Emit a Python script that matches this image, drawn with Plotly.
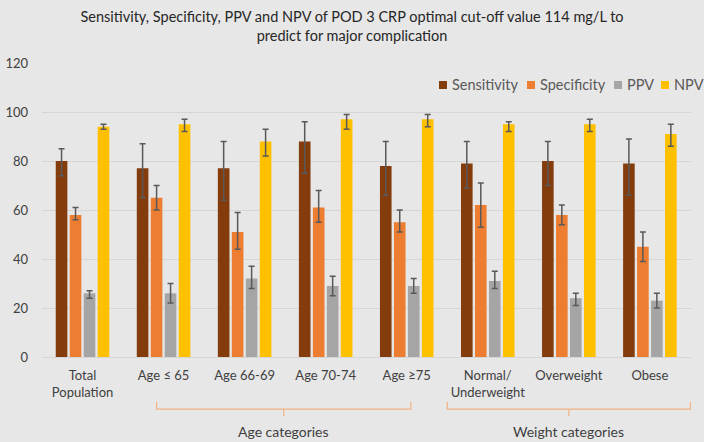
import plotly.graph_objects as go

categories = ["Total<br>Population", "Age ≤ 65", "Age 66-69", "Age 70-74", "Age ≥75",
              "Normal/<br>Underweight", "Overweight", "Obese"]

sens = [80, 77, 77, 88, 78, 79, 80, 79]
sens_hi = [85, 87, 88, 96, 88, 88, 88, 89]
sens_lo = [74, 65, 64, 75, 66, 69, 70, 66]

spec = [58, 65, 51, 61, 55, 62, 58, 45]
spec_hi = [61, 70, 59, 68, 60, 71, 62, 51]
spec_lo = [56, 60, 44, 55, 51, 53, 54, 39]

ppv = [26, 26, 32, 29, 29, 31, 24, 23]
ppv_hi = [27, 30, 37, 33, 32, 35, 26, 26]
ppv_lo = [24, 22, 28, 25, 26, 28, 21, 20]

npv = [94, 95, 88, 97, 97, 95, 95, 91]
npv_hi = [95, 97, 93, 99, 99, 96, 97, 95]
npv_lo = [93, 92, 82, 93, 94, 92, 92, 86]

series_names = ["Sensitivity", "Specificity", "PPV", "NPV"]
series_colors = ["#843C0C", "#ED7D31", "#A5A5A5", "#FFC000"]
series_vals = [(sens, sens_hi, sens_lo), (spec, spec_hi, spec_lo),
               (ppv, ppv_hi, ppv_lo), (npv, npv_hi, npv_lo)]

FONT = "Lato"
fig = go.Figure()
for name, (v, hi, lo), col in zip(series_names, series_vals, series_colors):
    fig.add_trace(go.Bar(
        name=name, x=categories, y=v, marker_color=col, marker_line_width=0,
        showlegend=False,
        error_y=dict(type="data", symmetric=False,
                     array=[h - a for h, a in zip(hi, v)],
                     arrayminus=[a - l for a, l in zip(v, lo)],
                     color="#595959", thickness=1.5, width=3),
    ))

bg = "#E7E7E7"
fig.update_layout(
    width=704, height=442,
    paper_bgcolor=bg, plot_bgcolor=bg,
    margin=dict(l=42, r=13, t=63, b=85, autoexpand=False),
    barmode="group", bargap=0.31, bargroupgap=0.17,
    font=dict(family=FONT, size=13, color="#404040"),
    title=dict(text="Sensitivity, Specificity, PPV and NPV of POD 3 CRP optimal cut-off value 114 mg/L to<br>predict for major complication",
               x=0.5, xanchor="center", y=0.951, yanchor="top",
               font=dict(family=FONT, size=14.5, color="#262626")),
    yaxis=dict(range=[0, 120], dtick=20, gridcolor="#D6D6D6", gridwidth=1,
               zeroline=False, showline=False, ticks="", ticklabelstandoff=13,
               automargin=False, tickfont=dict(size=13, color="#404040")),
    xaxis=dict(showline=True, linecolor="#D6D6D6", ticks="", ticklabelstandoff=6,
               automargin=False, tickfont=dict(size=13, color="#404040"), tickangle=0),
)

# manual legend (paper coordinates)
leg_sq_x = [0.6117, 0.7473, 0.8814, 0.9538]
leg_sq_w = 0.0123
leg_y0, leg_y1, leg_yc = 0.9116, 0.9388, 0.9252
for name, col, sx in zip(series_names, series_colors, leg_sq_x):
    fig.add_shape(type="rect", xref="paper", yref="paper",
                  x0=sx, x1=sx + leg_sq_w, y0=leg_y0, y1=leg_y1,
                  fillcolor=col, line_width=0)
    fig.add_annotation(text=name, xref="paper", yref="paper", x=sx + leg_sq_w + 0.004,
                       y=leg_yc, xanchor="left", yanchor="middle", showarrow=False,
                       font=dict(size=14.5, color="#595959"))

bracket_col = "#F4B183"
groups = [("Age categories", 1, 4, -0.086, 0.05), ("Weight categories", 5, 7, -0.5, 0.5)]
for label, i0, i1, d0, d1 in groups:
    x0 = i0 + d0
    x1 = i1 + d1
    xm = (x0 + x1) / 2
    path = (f"M {x0},-0.152 L {x0},-0.177 L {x1},-0.177 L {x1},-0.152 "
            f"M {xm},-0.177 L {xm},-0.201")
    fig.add_shape(type="path", path=path, xref="x", yref="paper",
                  line=dict(color=bracket_col, width=1.2))
    fig.add_annotation(text=label, x=xm, xref="x", y=-0.252, yref="paper",
                       showarrow=False, yanchor="middle",
                       font=dict(size=14, color="#404040"))

fig.write_html("out.html")
